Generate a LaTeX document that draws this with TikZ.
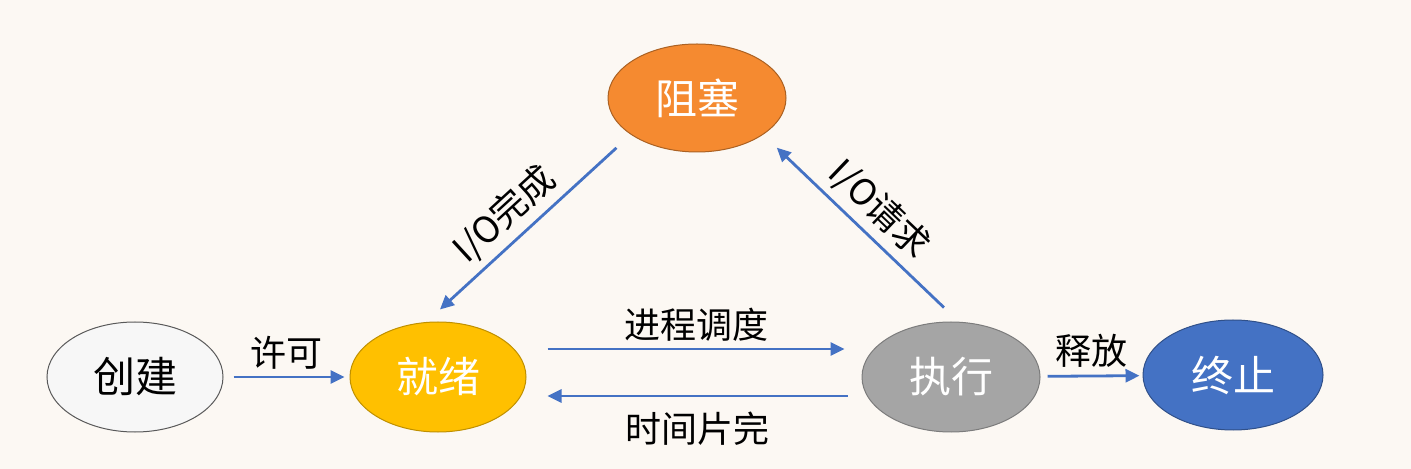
\documentclass[tikz,border=0pt]{standalone}
\usepackage{fontspec}
\setmainfont{Noto Sans CJK SC}
\usepackage{tikz}
\usetikzlibrary{arrows.meta,shapes.geometric}
\usepackage{xcolor}

\definecolor{paper}{HTML}{FCF8F3}
\definecolor{linkblue}{HTML}{4472C4}
\definecolor{readygold}{HTML}{FFC000}
\definecolor{blockorange}{HTML}{F58A30}
\definecolor{rungray}{HTML}{A5A5A5}
\definecolor{exitblue}{HTML}{4472C4}

\begin{document}
\begin{tikzpicture}[x=0.5pt, y=-0.5pt,
  state/.style={ellipse, line width=0.5pt, inner sep=0pt,
    font=\fontsize{21}{25}\selectfont},
  arr/.style={-{Triangle[length=7pt,width=6.5pt]}, line width=1.4pt, linkblue},
  lbl/.style={font=\fontsize{18}{22}\selectfont, black}]

% ---- page ------------------------------------------------------------------
\fill[paper] (0,0) rectangle (1411,469);
\useasboundingbox (0,0) rectangle (1411,469);

% ---- states ----------------------------------------------------------------
\node[state, draw=black!65, fill=white!97!black, minimum width=88pt, minimum height=55pt]
  (create) at (135,377) {创建};
\node[state, draw=readygold!75!black, fill=readygold, text=white,
  minimum width=88pt, minimum height=55pt] (ready) at (438,377) {就绪};
\node[state, draw=blockorange!70!black, fill=blockorange, text=white,
  minimum width=89pt, minimum height=54pt] (block) at (697,98) {阻塞};
\node[state, draw=rungray!75!black, fill=rungray, text=white,
  minimum width=89pt, minimum height=55pt] (run) at (951,377) {执行};
\node[state, draw=exitblue!70!black, fill=exitblue, text=white,
  minimum width=90pt, minimum height=55pt] (exit) at (1233,375) {终止};

% ---- transitions -----------------------------------------------------------
\draw[arr, shorten <=5pt, shorten >=2.5pt] (create) -- (ready)
  node[lbl, midway, above] {许可};
\draw[arr] ([xshift=10.5pt, yshift=14pt]ready.east) -- ([xshift=-8.5pt, yshift=14pt]run.west)
  node[lbl, midway, above] {进程调度};
\draw[arr] ([xshift=-7pt, yshift=-9.5pt]run.west) -- ([xshift=10.5pt, yshift=-9.5pt]ready.east)
  node[lbl, midway, below, yshift=-4pt] {时间片完};
\draw[arr, shorten <=3.5pt, shorten >=1.5pt] (run) -- (exit)
  node[lbl, midway, above] {释放};
\draw[arr, shorten <=9.75pt, shorten >=9.25pt] (block.209) -- (ready.102)
  node[lbl, pos=0.53, sloped, above] {I/O完成};
\draw[arr, shorten <=10.25pt, shorten >=9.4pt] (run.82) -- (block.331)
  node[lbl, pos=0.5, sloped, above] {I/O请求};

\end{tikzpicture}
\end{document}
